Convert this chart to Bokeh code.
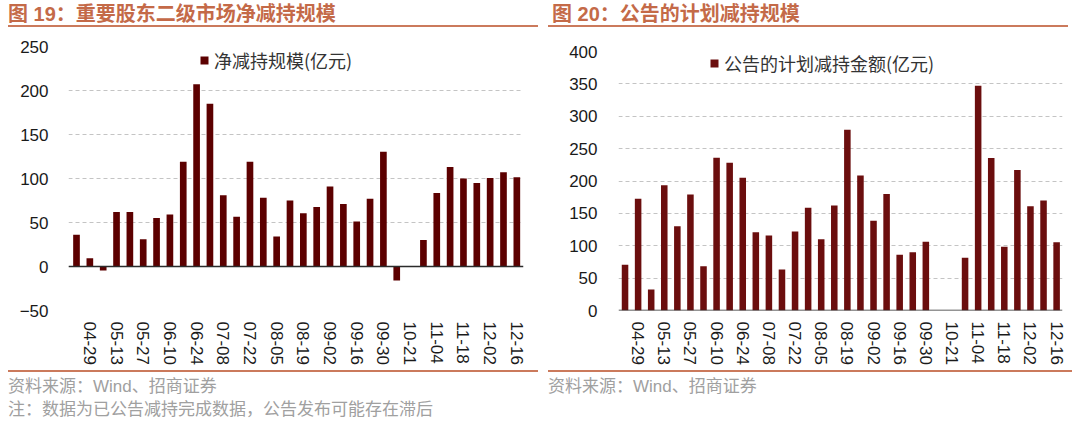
import numpy as np
from bokeh.plotting import figure
from bokeh.models import Range1d, FixedTicker, Span, Div, Legend, LegendItem, ColumnDataSource
from bokeh.layouts import row, column
from bokeh.embed import file_html
from bokeh.resources import INLINE

# ---------------- data ----------------
dates = ["04-22", "04-29", "05-06", "05-13", "05-20", "05-27", "06-03", "06-10", "06-17", "06-24",
         "07-01", "07-08", "07-15", "07-22", "07-29", "08-05", "08-12", "08-19", "08-26", "09-02",
         "09-09", "09-16", "09-23", "09-30", "10-14", "10-21", "10-28", "11-04", "11-11", "11-18",
         "11-25", "12-02", "12-09", "12-16"]

net_reduction = [36, 9.5, -4.5, 62, 62, 31, 55, 59, 119, 207,
                 185, 81, 56.5, 119, 78, 34, 75, 60.5, 67.5, 91,
                 71, 51, 77, 130.5, -16, None, 30, 83.5, 113, 100,
                 95, 100.5, 107, 101.5]

planned_reduction = [70.5, 172.5, 32.5, 193.5, 130, 179, 68.5, 236, 228, 205,
                     121, 116, 63.5, 122, 158.5, 110, 162, 279, 208.5, 138.5,
                     180, 86, 90, 106, None, None, 81.5, 347, 235.5, 98.5,
                     217, 161, 170, 105.5]

left_title = "图 19：重要股东二级市场净减持规模"
right_title = "图 20：公告的计划减持规模"
left_legend = "净减持规模(亿元)"
right_legend = "公告的计划减持金额(亿元)"
source_note = "资料来源：Wind、招商证券"
extra_note = "注：数据为已公告减持完成数据，公告发布可能存在滞后"

left_yticks = [-50, 0, 50, 100, 150, 200, 250]
right_yticks = [0, 50, 100, 150, 200, 250, 300, 350, 400]

# ---------------- styling ----------------
TITLE_COLOR = "#C46A48"
LINE_COLOR = "#CB7A5C"
GRAY = "#A0A0A0"
LATIN = "Liberation Sans"
CJK = "Noto Sans CJK SC"

label_idx = list(range(1, len(dates), 2))


def make_plot(values, color, yticks, legend_text, width, mb_left, mb_right, mb_top,
              xr, legend_loc, standoff, label_w):
    x = list(range(len(dates)))
    src = ColumnDataSource(dict(x=x, top=np.array(values, dtype=float)))
    p = figure(width=width, height=341, title=None,
               x_range=Range1d(*xr), y_range=Range1d(yticks[0], yticks[-1]),
               output_backend="svg", toolbar_location=None,
               min_border_left=mb_left, min_border_right=mb_right,
               min_border_top=mb_top, min_border_bottom=60)
    p.outline_line_color = None
    p.background_fill_color = "white"
    p.border_fill_color = "white"

    r = p.vbar(x="x", top="top", bottom=0, width=0.5, source=src,
               fill_color=color, line_color=None)

    # axes
    p.xaxis.ticker = FixedTicker(ticks=label_idx)
    p.xaxis.major_label_overrides = {i: dates[i] for i in label_idx}
    p.xaxis.major_label_orientation = "vertical"
    p.xaxis.major_label_standoff = 11
    p.yaxis.ticker = FixedTicker(ticks=yticks)
    p.yaxis.major_label_standoff = standoff
    for ax in (p.xaxis, p.yaxis):
        ax.axis_line_color = None
        ax.major_tick_line_color = None
        ax.minor_tick_line_color = None
        ax.major_tick_out = 0
        ax.major_label_text_font = LATIN
        ax.major_label_text_font_size = "17px"
        ax.major_label_text_color = "#1a1a1a"

    p.xgrid.visible = False
    p.ygrid.ticker = FixedTicker(ticks=yticks)
    p.ygrid.grid_line_color = "#C4C4C4"
    p.ygrid.grid_line_dash = "4 3"
    p.ygrid.grid_line_width = 1

    p.add_layout(Span(location=0, dimension="width", line_color="#2b2b2b", line_width=1.5))

    legend = Legend(items=[LegendItem(label=legend_text, renderers=[r])],
                    location=legend_loc, orientation="vertical",
                    glyph_width=10, glyph_height=10, label_standoff=5,
                    padding=0, margin=0, spacing=0, label_height=26, label_width=label_w,
                    border_line_color=None, background_fill_alpha=0,
                    label_text_font=CJK, label_text_font_size="18px",
                    label_text_color="#333333")
    p.add_layout(legend)
    return p


def title_div(text, width, pad_left):
    html = (f'<div style="width:{width - pad_left}px;height:24px;line-height:22px;'
            f'padding-left:{pad_left}px;border-bottom:2px solid {LINE_COLOR};'
            f'font-family:\'{LATIN}\',\'{CJK}\';font-weight:bold;font-size:20px;'
            f'color:{TITLE_COLOR};white-space:nowrap;">{text}</div>')
    return Div(text=html, width=width, height=26, margin=0)


def footer_div(lines, width, pad_left):
    inner = "<br>".join(lines)
    html = (f'<div style="width:{width - pad_left}px;border-top:2px solid {LINE_COLOR};'
            f'padding-top:3px;padding-left:{pad_left}px;line-height:23px;'
            f'font-family:\'{LATIN}\',\'{CJK}\';font-size:17px;color:{GRAY};'
            f'white-space:nowrap;">{inner}</div>')
    return Div(text=html, width=width, height=44, margin=0)


p1 = make_plot(net_reduction, "#5C0000", left_yticks, left_legend,
               width=530, mb_left=60, mb_right=15, mb_top=17,
               xr=(-0.6, 33.5), legend_loc=(131, 237), standoff=20, label_w=150)
p2 = make_plot(planned_reduction, "#6B0E0E", right_yticks, right_legend,
               width=524, mb_left=70, mb_right=10, mb_top=22,
               xr=(-0.5, 33.45), legend_loc=(91, 234), standoff=21, label_w=225)

left = column(title_div(left_title, 530, 0), p1,
              footer_div([source_note, extra_note], 530, 0), spacing=0)
right = column(title_div(right_title, 524, 4), p2,
               footer_div([source_note], 524, 0), spacing=0)
layout = row(left, right, spacing=10, margin=(3, 8, 0, 8))

open("out.html", "w").write(file_html(layout, INLINE))
